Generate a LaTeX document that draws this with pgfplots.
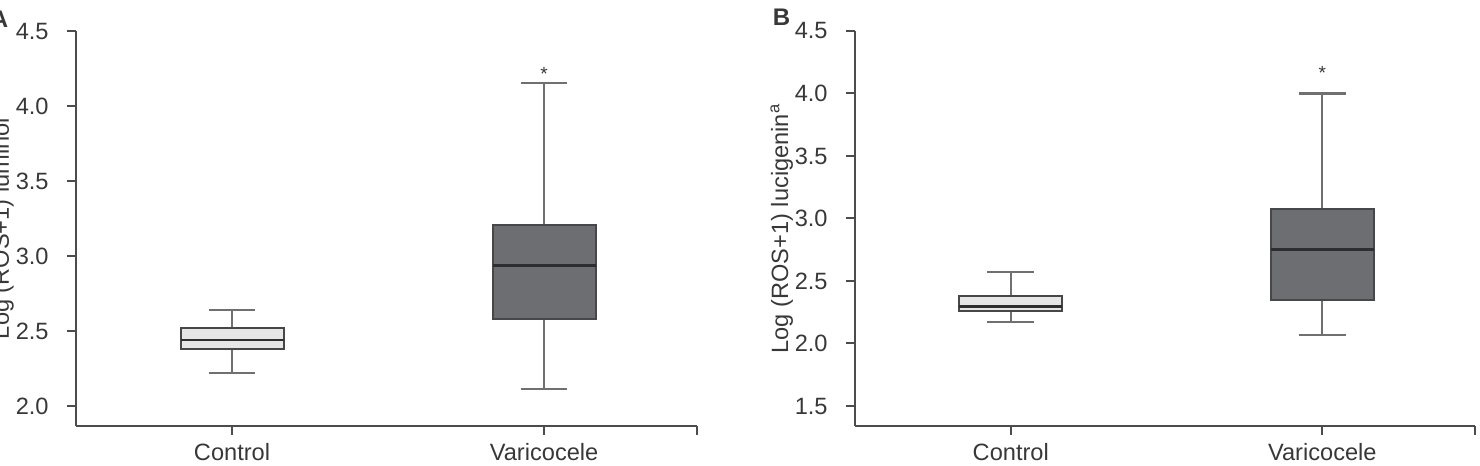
\documentclass[border=0pt]{standalone}
\usepackage{fontspec}
\setmainfont{Liberation Sans}
\usepackage{pgfplots}
\pgfplotsset{compat=1.18}
\usepgfplotslibrary{statistics}
\definecolor{txt}{HTML}{383838}
\definecolor{axc}{HTML}{4C4C4C}
\definecolor{lightfill}{HTML}{E6E6E7}
\definecolor{darkfill}{HTML}{6D6E71}
\definecolor{edge}{HTML}{474747}
\definecolor{whisk}{HTML}{707070}
\definecolor{med}{HTML}{2E2E2E}
\pgfplotsset{
 myaxis/.style={
  scale only axis,
  anchor=south west,
  clip=false,
  height=197.5pt,
  axis x line*=bottom, axis y line*=left,
  axis line style={draw=axc, line width=1pt},
  tick style={draw=axc, line width=1pt},
  tick align=outside,
  major tick length=4.5pt,
  xmin=0.5, xmax=2.49, ymax=4.5,
  xtick={1,2}, xticklabels={Control,Varicocele},
  extra x ticks={2.49}, extra x tick labels={},
  ticklabel style={font=\fontsize{11.8}{13}\selectfont, text=txt},
  yticklabel style={anchor=east, inner sep=0pt, xshift=-9pt},
  xticklabel style={anchor=north, inner sep=0pt, yshift=-4pt},
  label style={font=\fontsize{11.8}{13}\selectfont, text=txt},
  ylabel style={at={(axis description cs:-0.1079,0.5)}, anchor=base},
  boxplot/draw direction=y,
  /pgf/number format/fixed,
  /pgf/number format/fixed zerofill,
  /pgf/number format/precision=1,
  /pgf/number format/assume math mode=true,
 },
 lightbox/.style={draw=edge, fill=lightfill, line width=1pt,
  boxplot/every whisker/.style={draw=whisk, line width=1.1pt},
  boxplot/every median/.style={draw=med, line width=1.3pt}},
 darkbox/.style={draw=edge, fill=darkfill, line width=1pt,
  boxplot/every whisker/.style={draw=whisk, line width=1.1pt},
  boxplot/every median/.style={draw=med, line width=1.3pt}},
}
\begin{document}
\begin{tikzpicture}
\useasboundingbox (-38pt,-20pt) rectangle (702pt,213pt);
% Panel A
\begin{axis}[myaxis, at={(0pt,0pt)}, width=310.5pt, ymin=1.8667,
  ytick={2.0,2.5,3.0,3.5,4.0,4.5},
  ylabel={Log (ROS+1) luminol}]
\addplot[lightbox, boxplot prepared={lower whisker=2.218, lower quartile=2.378,
  median=2.44, upper quartile=2.518, upper whisker=2.64,
  draw position=1, box extend=0.33, whisker extend=0.15}] coordinates {};
\addplot[darkbox, boxplot prepared={lower whisker=2.111, lower quartile=2.578,
  median=2.938, upper quartile=3.204, upper whisker=4.151,
  draw position=2, box extend=0.33, whisker extend=0.15}] coordinates {};
\node[anchor=base, text=txt, font=\fontsize{9.5}{11}\selectfont] at (axis cs:2,4.173) {*};
\node[anchor=base, text=txt, font=\fontsize{12}{14}\selectfont\bfseries] at (rel axis cs:-0.1232,1.0101) {A};
\end{axis}
% Panel B
\begin{axis}[myaxis, at={(389.5pt,0pt)}, width=310pt, ymin=1.34,
  ytick={1.5,2.0,2.5,3.0,3.5,4.0,4.5},
  ylabel={Log (ROS+1) lucigenin\textsuperscript{a}}]
\addplot[lightbox, boxplot prepared={lower whisker=2.174, lower quartile=2.26,
  median=2.294, upper quartile=2.382, upper whisker=2.572,
  draw position=1, box extend=0.33, whisker extend=0.15}] coordinates {};
\addplot[darkbox, boxplot prepared={lower whisker=2.066, lower quartile=2.348,
  median=2.754, upper quartile=3.074, upper whisker=4.0,
  draw position=2, box extend=0.33, whisker extend=0.15}] coordinates {};
\node[anchor=base, text=txt, font=\fontsize{9.5}{11}\selectfont] at (axis cs:2,4.108) {*};
\node[anchor=base, text=txt, font=\fontsize{12}{14}\selectfont\bfseries] at (rel axis cs:-0.1185,1.0127) {B};
\end{axis}
\end{tikzpicture}
\end{document}
